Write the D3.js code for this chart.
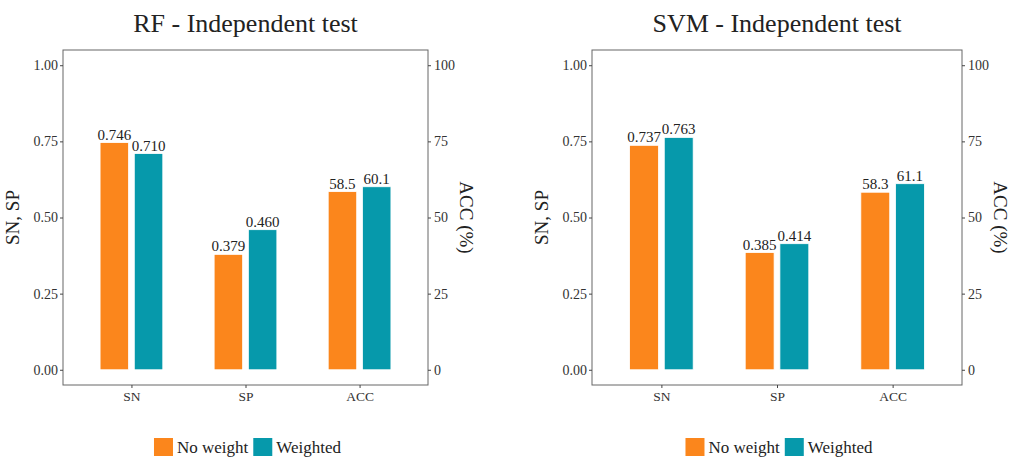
<!DOCTYPE html>
<html>
<head>
<meta charset="utf-8">
<script src="https://cdn.jsdelivr.net/npm/d3@7"></script>
<style>
html,body{margin:0;padding:0;background:#fff;}
svg{display:block;}
svg text{font-family:"Liberation Serif","DejaVu Serif",serif;}
</style>
</head>
<body>
<svg id="chart" width="1016" height="470" font-family="Liberation Serif"></svg>
<script>
const categories = ["SN", "SP", "ACC"];
const seriesNames = ["No weight", "Weighted"];
const rfNoWeight = [0.746, 0.379, 58.5];
const rfWeighted = [0.710, 0.460, 60.1];
const svmNoWeight = [0.737, 0.385, 58.3];
const svmWeighted = [0.763, 0.414, 61.1];
const leftTicks = [0, 0.25, 0.5, 0.75, 1];
const rightTicks = [0, 25, 50, 75, 100];
const titles = ["RF - Independent test", "SVM - Independent test"];

const colors = ["#FB861C", "#0699AB"];
const FONT = "Liberation Serif";
const svg = d3.select("#chart");

const panels = [
  {title: titles[0], vals: [rfNoWeight, rfWeighted], x0: 63, x1: 428},
  {title: titles[1], vals: [svmNoWeight, svmWeighted], x0: 592, x1: 962}
];
const plotTop = 50, plotBottom = 385;

panels.forEach(p => {
  const g = svg.append("g");
  const x = d3.scaleLinear().domain([0.4, 3.6]).range([p.x0, p.x1]);
  const y = d3.scaleLinear().domain([-0.05, 1.05]).range([plotBottom, plotTop]);
  const yR = d3.scaleLinear().domain([-5, 105]).range([plotBottom, plotTop]);
  const unit = x(1) - x(0);
  const inner = d3.scaleBand().domain(seriesNames).range([-0.275, 0.275]).paddingInner(1/6);

  // bars
  seriesNames.forEach((s, si) => {
    const data = p.vals[si].map((v, ci) => ({cat: ci, v}));
    const xs = d => x(d.cat + 1) + inner(s) * unit;
    const ys = d => d.cat === 2 ? yR(d.v) : y(d.v);
    g.selectAll(null).data(data).enter().append("rect")
      .attr("x", xs)
      .attr("width", inner.bandwidth() * unit)
      .attr("y", ys)
      .attr("height", d => y(0) - ys(d))
      .attr("fill", colors[si])
      .attr("stroke", "#fff").attr("stroke-width", 0.8);
    g.selectAll(null).data(data).enter().append("text")
      .attr("x", d => xs(d) + inner.bandwidth() * unit / 2)
      .attr("y", d => ys(d) - 3)
      .attr("text-anchor", "middle")
      .attr("font-family", FONT)
      .attr("font-size", 15)
      .attr("fill", "#222")
      .text(d => d.cat === 2 ? d3.format(".1f")(d.v) : d3.format(".3f")(d.v));
  });

  // panel border
  g.append("rect").attr("x", p.x0).attr("y", plotTop)
    .attr("width", p.x1 - p.x0).attr("height", plotBottom - plotTop)
    .attr("fill", "none").attr("stroke", "#666").attr("stroke-width", 1);

  // left axis
  const la = g.append("g").attr("transform", `translate(${p.x0},0)`)
    .call(d3.axisLeft(y).tickValues(leftTicks).tickFormat(d3.format(".2f")).tickSize(3).tickPadding(2));
  la.attr("font-family", FONT);
  la.select(".domain").remove();
  la.selectAll("line").attr("stroke", "#444");
  la.selectAll("text").attr("font-size", 14).attr("fill", "#333").attr("font-family", FONT);

  // right axis
  const ra = g.append("g").attr("transform", `translate(${p.x1},0)`)
    .call(d3.axisRight(yR).tickValues(rightTicks).tickSize(3).tickPadding(3));
  ra.attr("font-family", FONT);
  ra.select(".domain").remove();
  ra.selectAll("line").attr("stroke", "#444");
  ra.selectAll("text").attr("font-size", 14).attr("fill", "#333").attr("font-family", FONT);

  // bottom axis
  const ba = g.append("g").attr("transform", `translate(0,${plotBottom})`)
    .call(d3.axisBottom(x).tickValues([1, 2, 3]).tickFormat((d) => categories[d - 1]).tickSize(3).tickPadding(3));
  ba.attr("font-family", FONT);
  ba.select(".domain").remove();
  ba.selectAll("line").attr("stroke", "#444");
  ba.selectAll("text").attr("font-size", 13.5).attr("fill", "#333").attr("font-family", FONT);

  // axis titles
  const yMid = (plotTop + plotBottom) / 2;
  g.append("text").attr("transform", `translate(${p.x0 - 44},${yMid}) rotate(-90)`)
    .attr("text-anchor", "middle").attr("font-family", FONT).attr("font-size", 19).attr("fill", "#222").text("SN, SP");
  g.append("text").attr("transform", `translate(${p.x1 + 32},${yMid}) rotate(90)`)
    .attr("text-anchor", "middle").attr("font-family", FONT).attr("font-size", 19).attr("fill", "#222").text("ACC (%)");

  // title
  const cx = (p.x0 + p.x1) / 2;
  g.append("text").attr("x", cx).attr("y", 32).attr("text-anchor", "middle")
    .attr("font-family", FONT).attr("font-size", 26).attr("fill", "#222").text(p.title);

  // legend
  const lg = g.append("g");
  let cur = 0;
  seriesNames.forEach((s, si) => {
    const it = lg.append("g").attr("transform", `translate(${cur},0)`);
    it.append("rect").attr("x", 0).attr("y", -9).attr("width", 19).attr("height", 18).attr("fill", colors[si]);
    const t = it.append("text").attr("x", 23).attr("y", 6).attr("font-family", FONT)
      .attr("font-size", 17).attr("fill", "#222").text(s);
    cur += 23 + t.node().getComputedTextLength() + 5;
  });
  const lw = cur - 5;
  lg.attr("transform", `translate(${cx - lw / 2 + 2},${447})`);
});
</script>
</body>
</html>
